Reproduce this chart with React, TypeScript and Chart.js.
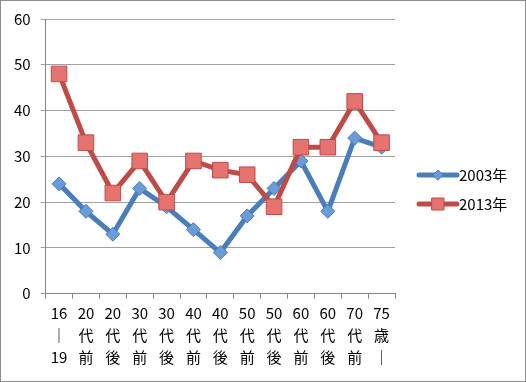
import React, { useEffect, useRef } from 'react';
import { Chart, registerables } from 'chart.js';

Chart.register(...registerables);

const categories: string[][] = [
  ['16', '｜', '19'],
  ['20', '代', '前'],
  ['20', '代', '後'],
  ['30', '代', '前'],
  ['30', '代', '後'],
  ['40', '代', '前'],
  ['40', '代', '後'],
  ['50', '代', '前'],
  ['50', '代', '後'],
  ['60', '代', '前'],
  ['60', '代', '後'],
  ['70', '代', '前'],
  ['75', '歳', '｜'],
];

const series2003 = [24, 18, 13, 23, 19, 14, 9, 17, 23, 29, 18, 34, 32];
const series2013 = [48, 33, 22, 29, 20, 29, 27, 26, 19, 32, 32, 42, 33];
const seriesLabels = ['2003年', '2013年'];
const yMin = 0;
const yMax = 60;
const yStep = 10;

const FONT = "'Noto Sans CJK JP', 'Open Sans', sans-serif";

const BLUE = '#4a7ebb';
const BLUE_FILL = '#6b9bd9';
const RED = '#be4b48';
const RED_FILL = '#e57370';

const frameAndLegend = {
  id: 'frameAndLegend',
  beforeDraw(chart: any) {
    const { ctx, width, height } = chart;
    ctx.save();
    ctx.fillStyle = '#ffffff';
    ctx.fillRect(0, 0, width, height);
    ctx.restore();
  },
  afterDraw(chart: any) {
    const { ctx, width, height, chartArea } = chart;
    ctx.save();
    ctx.strokeStyle = '#8c8c8c';
    ctx.lineWidth = 1;
    ctx.strokeRect(0.5, 0.5, width - 1, height - 1);

    const items = [
      { label: seriesLabels[0], color: BLUE, fill: BLUE_FILL, shape: 'diamond' },
      { label: seriesLabels[1], color: RED, fill: RED_FILL, shape: 'square' },
    ];
    const x0 = chartArea.right + 24;
    const x1 = x0 + 38;
    const yStart = 175;
    const gap = 29;
    items.forEach((it, i) => {
      const y = yStart + i * gap;
      ctx.strokeStyle = it.color;
      ctx.lineWidth = 5;
      ctx.lineCap = 'round';
      ctx.beginPath();
      ctx.moveTo(x0, y);
      ctx.lineTo(x1, y);
      ctx.stroke();
      const cx = (x0 + x1) / 2;
      ctx.fillStyle = it.fill;
      ctx.strokeStyle = it.color;
      ctx.lineWidth = 1;
      ctx.beginPath();
      if (it.shape === 'diamond') {
        ctx.moveTo(cx - 5, y);
        ctx.lineTo(cx, y - 5);
        ctx.lineTo(cx + 5, y);
        ctx.lineTo(cx, y + 5);
        ctx.closePath();
      } else {
        ctx.rect(cx - 6, y - 6, 12, 12);
      }
      ctx.fill();
      ctx.stroke();
      ctx.fillStyle = '#000000';
      ctx.font = `15px ${FONT}`;
      ctx.textAlign = 'left';
      ctx.textBaseline = 'middle';
      ctx.fillText(it.label, x1 + 2, y);
    });
    ctx.restore();
  },
};

export default function App() {
  const ref = useRef<HTMLCanvasElement | null>(null);

  useEffect(() => {
    document.body.style.margin = '0';
    if (!ref.current) return;
    const chart = new Chart(ref.current, {
      type: 'line',
      data: {
        labels: categories as any,
        datasets: [
          {
            label: seriesLabels[0],
            data: series2003,
            borderColor: BLUE,
            backgroundColor: BLUE_FILL,
            borderWidth: 5,
            pointStyle: 'rectRot',
            pointRadius: 7,
            pointBorderWidth: 1,
            pointBorderColor: BLUE,
            pointBackgroundColor: BLUE_FILL,
            tension: 0,
            order: 1,
          },
          {
            label: seriesLabels[1],
            data: series2013,
            borderColor: RED,
            backgroundColor: RED_FILL,
            borderWidth: 5,
            pointStyle: 'rect',
            pointRadius: 11,
            pointBorderWidth: 1,
            pointBorderColor: RED,
            pointBackgroundColor: RED_FILL,
            tension: 0,
            order: 0,
          },
        ],
      },
      options: {
        animation: false,
        responsive: false,
        devicePixelRatio: 1,
        layout: { padding: { left: 4, right: 131, top: 11, bottom: 10 } },
        plugins: {
          legend: { display: false },
          tooltip: { enabled: false },
        },
        scales: {
          x: {
            type: 'category',
            offset: true,
            grid: {
              offset: true,
              drawOnChartArea: false,
              drawTicks: true,
              tickLength: 5,
              color: '#868686',
            },
            border: { color: '#868686', width: 1 },
            ticks: {
              autoSkip: false,
              maxRotation: 0,
              minRotation: 0,
              color: '#000000',
              padding: 4,
              font: { family: FONT, size: 15, lineHeight: 1.45 },
            },
          },
          y: {
            min: yMin,
            max: yMax,
            ticks: {
              stepSize: yStep,
              color: '#000000',
              padding: 10,
              font: { family: FONT, size: 15 },
            },
            grid: {
              color: '#a0a0a0',
              tickLength: 5,
              drawTicks: true,
            },
            border: { color: '#868686', width: 1 },
          },
        },
      },
      plugins: [frameAndLegend],
    });
    return () => chart.destroy();
  }, []);

  return (
    <div style={{ width: 526, height: 382 }}>
      <canvas ref={ref} width={526} height={382} style={{ width: 526, height: 382, display: 'block' }} />
    </div>
  );
}
